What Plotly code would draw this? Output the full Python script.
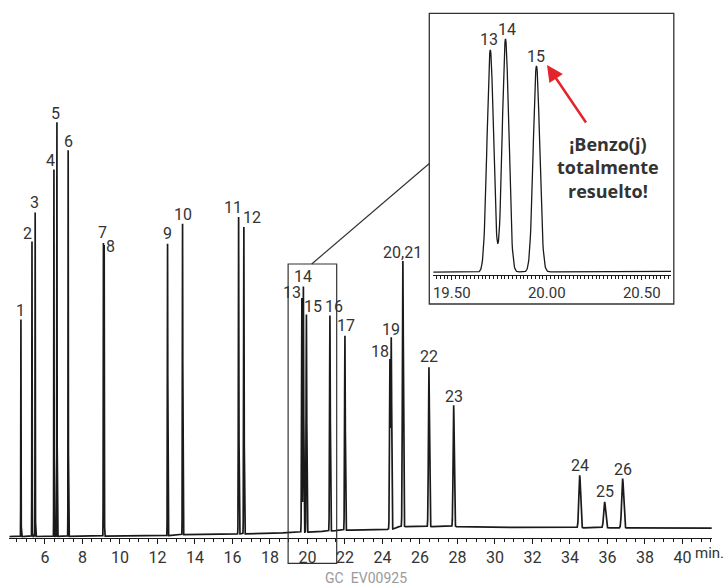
import numpy as np
import plotly.graph_objects as go

# ---------------- data ----------------
peak_labels = ["1", "2", "3", "4", "5", "6", "7", "8", "9", "10", "11", "12",
               "13", "14", "15", "16", "17", "18", "19", "20,21", "22", "23",
               "24", "25", "26"]
retention_min = [4.72, 5.31, 5.48, 6.48, 6.64, 7.24, 9.12, 9.16, 12.54, 13.34,
                 16.33, 16.61, 19.703, 19.783, 19.946, 21.20, 22.00, 24.40,
                 24.47, 25.09, 26.48, 27.80, 34.52, 35.85, 36.81]
peak_height = [217, 295, 324, 367, 414, 386, 293, 291, 292, 311,
               317, 307, 234.7, 246.3, 217.8, 215.5, 194.5, 169,
               191, 265.7, 159.4, 121.4, 52.5, 26, 49.4]
peak_sigma = [0.008, 0.008, 0.008, 0.008, 0.008, 0.008, 0.009, 0.009, 0.011, 0.011,
              0.014, 0.014, 0.017, 0.017, 0.017, 0.019, 0.019, 0.022,
              0.022, 0.025, 0.027, 0.03, 0.045, 0.05, 0.05]
baseline_time = [4.1, 8.0, 12.5, 13.3, 16.0, 18.0, 20.0, 22.0, 24.55, 24.8, 28.0, 32.0, 41.6]
baseline_level = [1.0, 1.5, 2.0, 3.0, 3.5, 4.5, 5.5, 7.5, 8.5, 11.0, 11.0, 10.0, 9.5]

inset_ticks = [19.5, 20.0, 20.5]
inset_ticktext = ["19.50", "20.00", "20.50"]
inset_peaks = ["13", "14", "15"]

# ---------------- signal built from the peak table ----------------
t = np.arange(4.1, 41.6, 0.002)
signal = np.interp(t, baseline_time, baseline_level)
for rt, h, s in zip(retention_min, peak_height, peak_sigma):
    signal = signal + h * np.exp(-0.5 * ((t - rt) / s) ** 2)

# ---------------- layout helpers ----------------
W, H = 724, 587
def px(x):
    return x / W
def py(y):
    return 1 - y / H

FONT = "Roboto, Liberation Sans, sans-serif"
TXT = "#333333"
LINE = "#1a1a1a"

# label offsets in pixels (dx, dy) relative to each apex
label_dx = [0, -4, -1, -3, -1, 0, -1, 6, 0, 0, -6, 8, -10, 0, 7, 4, 1, -10, 0, 0, 0, 0, 0, 0, 0]
label_dy = [9, 8, 10, 9, 9, 9, 11, -1, 10, 9, 10, 9, 6, 10, 8, 9, 10, 8, 8, 9, 11, 9, 10, 10, 9]

fig = go.Figure()
fig.add_trace(go.Scatter(x=t, y=signal, mode="lines",
                         line=dict(color=LINE, width=1.7),
                         hoverinfo="skip", showlegend=False))

mask = (t > 19.38) & (t < 20.68)
fig.add_trace(go.Scatter(x=t[mask], y=signal[mask], mode="lines",
                         line=dict(color=LINE, width=1.3),
                         xaxis="x2", yaxis="y2",
                         hoverinfo="skip", showlegend=False))

annotations = []
for lab, rt, dx, dy in zip(peak_labels, retention_min, label_dx, label_dy):
    annotations.append(dict(x=rt, y=float(np.interp(rt, t, signal)), xref="x", yref="y",
                            text=lab, showarrow=False, xanchor="center", yanchor="middle",
                            xshift=dx, yshift=dy,
                            font=dict(family=FONT, size=16, color=TXT)))

inset_dx = [-1, 1, 0]
inset_dy = [11, 10, 9]
for lab, dx, dy in zip(inset_peaks, inset_dx, inset_dy):
    rt = retention_min[peak_labels.index(lab)]
    annotations.append(dict(x=rt, y=float(np.interp(rt, t, signal)), xref="x2", yref="y2",
                            text=lab, showarrow=False, xanchor="center", yanchor="middle",
                            xshift=dx, yshift=dy,
                            font=dict(family=FONT, size=16, color=TXT)))

# "min." unit label
annotations.append(dict(x=px(693), y=py(553), xref="paper", yref="paper", text="min.",
                        showarrow=False, xanchor="left", yanchor="middle",
                        font=dict(family=FONT, size=15, color=TXT)))
# source code
annotations.append(dict(x=px(366), y=py(578), xref="paper", yref="paper",
                        text="GC\u2002EV00925", showarrow=False,
                        xanchor="center", yanchor="middle",
                        font=dict(family=FONT, size=14, color="#9a9a9a")))
# bold callout
annotations.append(dict(x=px(608), y=py(167), xref="paper", yref="paper",
                        text="<b>¡Benzo(j)<br>totalmente<br>resuelto!</b>",
                        showarrow=False, xanchor="center", yanchor="middle", align="center",
                        font=dict(family="Open Sans, Noto Sans, sans-serif", size=18, color=TXT)))
# red arrow
annotations.append(dict(x=px(547), y=py(65), xref="paper", yref="paper", text="",
                        showarrow=True, ax=40, ay=59, arrowcolor="#e3242b",
                        arrowwidth=2.5, arrowhead=2, arrowsize=1.3, standoff=0))

shapes = [
    # zoom box in main chart
    dict(type="rect", xref="x", yref="paper", x0=18.97, x1=21.56, y0=py(563.3), y1=py(264),
         line=dict(color="#333333", width=1.2), fillcolor="rgba(0,0,0,0)"),
    # connector
    dict(type="line", xref="paper", yref="paper", x0=px(311.7), y0=py(264),
         x1=px(429.3), y1=py(163.5), line=dict(color="#333333", width=1.2)),
    # inset frame
    dict(type="rect", xref="paper", yref="paper", x0=px(429.3), x1=px(673.8),
         y0=py(304), y1=py(13.3), line=dict(color="#333333", width=1.3),
         fillcolor="rgba(0,0,0,0)"),
]

fig.update_layout(
    width=W, height=H,
    margin=dict(l=0, r=0, t=0, b=0),
    paper_bgcolor="white", plot_bgcolor="white",
    showlegend=False,
    xaxis=dict(domain=[px(9.3), px(711.7)], range=[4.1, 41.56],
               tick0=0, dtick=2, ticks="outside", ticklen=5, tickwidth=1.2,
               tickcolor=LINE, showline=True, linecolor=LINE, linewidth=1.4,
               showgrid=False, zeroline=False,
               tickfont=dict(family=FONT, size=16, color=TXT),
               minor=dict(dtick=0.5, ticks="outside", ticklen=3, tickcolor=LINE,
                          tickwidth=1, showgrid=False)),
    yaxis=dict(domain=[py(537.7), 1], range=[0, 537.7], visible=False, fixedrange=True),
    xaxis2=dict(domain=[px(433.3), px(671)], range=[19.403, 20.654], anchor="y2",
                tickvals=inset_ticks, ticktext=inset_ticktext,
                ticks="outside", ticklen=4, tickwidth=1, tickcolor=LINE,
                showline=True, linecolor=LINE, linewidth=1.2,
                showgrid=False, zeroline=False,
                tickfont=dict(family=FONT, size=15, color=TXT),
                minor=dict(dtick=0.02, tick0=19.5, ticks="outside", ticklen=2.5,
                           tickcolor=LINE, tickwidth=1, showgrid=False)),
    yaxis2=dict(domain=[py(275), py(13.3)], range=[2.23, 278.8], anchor="x2",
                visible=False),
    annotations=annotations,
    shapes=shapes,
)

fig.write_html("out.html", config={"displayModeBar": False},
               post_script="document.body.style.margin='0px';")
